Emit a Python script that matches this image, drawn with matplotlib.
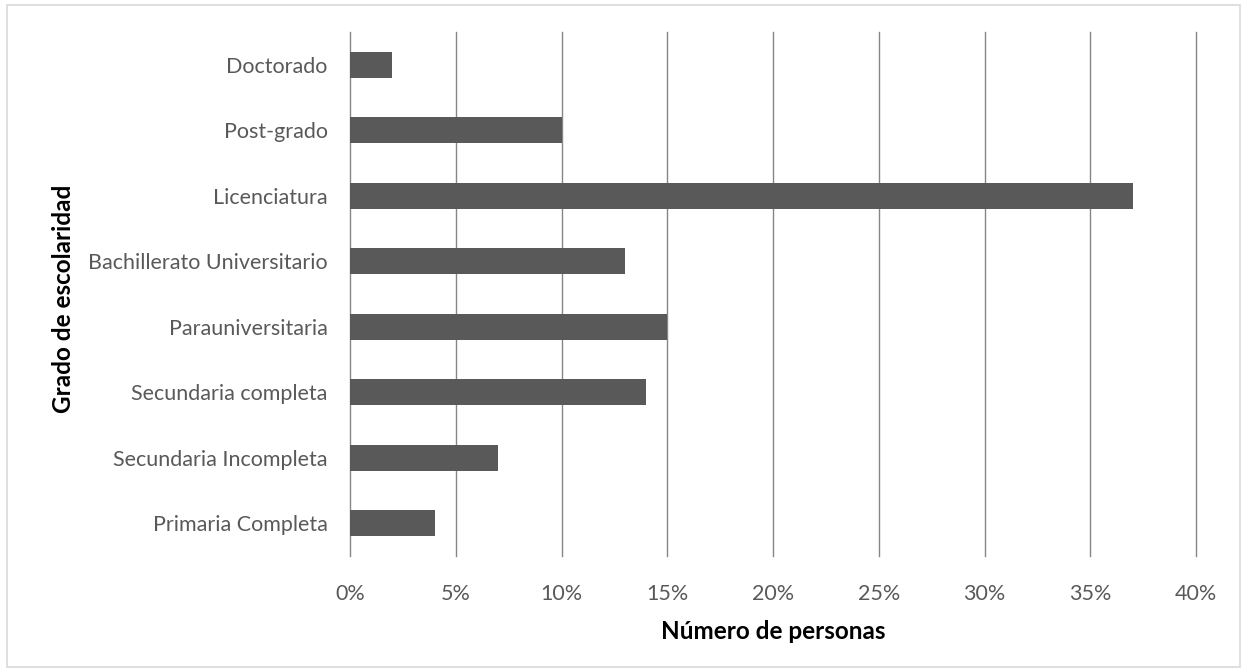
import matplotlib.pyplot as plt
from matplotlib.patches import Rectangle

categorias = ["Primaria Completa", "Secundaria Incompleta", "Secundaria completa",
              "Parauniversitaria", "Bachillerato Universitario", "Licenciatura",
              "Post-grado", "Doctorado"]
porcentajes = [4, 7, 14, 15, 13, 37, 10, 2]
ticks_x = [0, 5, 10, 15, 20, 25, 30, 35, 40]
etiquetas_x = [f"{t}%" for t in ticks_x]

plt.rcParams['font.family'] = ['Lato', 'DejaVu Sans']

fig = plt.figure(figsize=(12.47, 6.72), dpi=100)
ax = fig.add_axes([0.2807, 0.1726, 0.6784, 0.7798])

ax.barh(range(len(categorias)), porcentajes, height=0.4, color='#595959', zorder=3)
ax.set_xlim(0, 40)
ax.set_ylim(-0.5, len(categorias) - 0.5)
ax.set_xticks(ticks_x)
ax.set_xticklabels(etiquetas_x)
ax.set_yticks(range(len(categorias)))
ax.set_yticklabels(categorias)
ax.tick_params(axis='both', length=0, labelsize=15.5, colors='#595959')
ax.tick_params(axis='y', pad=16)
ax.tick_params(axis='x', pad=20)
ax.grid(axis='x', color='#868686', linewidth=1, zorder=0)
for linea in ax.get_xgridlines():
    linea.set_clip_on(False)
for s in ax.spines.values():
    s.set_visible(False)

ax.set_xlabel("Número de personas", fontsize=17.5, fontweight='bold', va='center')
ax.set_ylabel("Grado de escolaridad", fontsize=17.5, fontweight='bold', va='center')
ax.xaxis.set_label_coords(0.5, -0.145)
ax.yaxis.set_label_coords(-0.339, 0.49)

fig.patches.append(Rectangle((0.006, 0.008), 0.988, 0.984, transform=fig.transFigure,
                             fill=False, edgecolor='#d9d9d9', linewidth=1.2))

fig.savefig("out.png", dpi=100)
